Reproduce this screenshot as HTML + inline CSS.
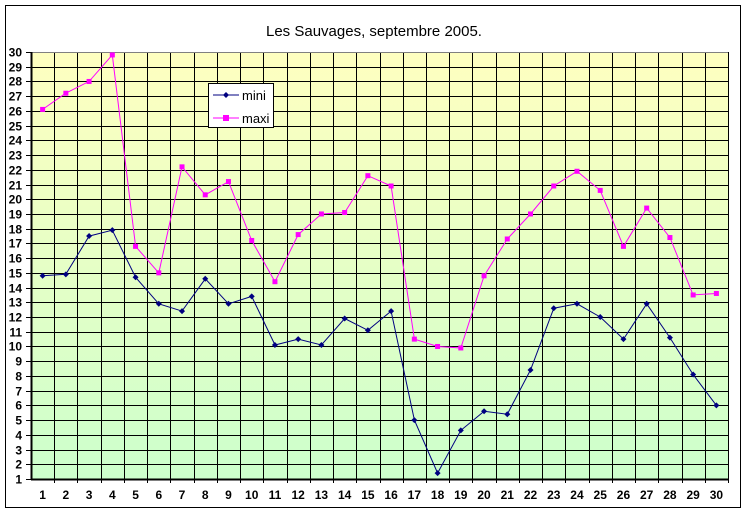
<!DOCTYPE html>
<html><head><meta charset="utf-8"><style>
html,body{margin:0;padding:0;background:#fff;width:749px;height:515px;overflow:hidden}
svg{display:block;font-family:"Liberation Sans",Arial,sans-serif}
</style></head><body>
<svg id="s" width="749" height="515" xmlns="http://www.w3.org/2000/svg">
<defs><linearGradient id="g" x1="0" y1="0" x2="0" y2="1">
<stop offset="0" stop-color="#ffffc0"/><stop offset="1" stop-color="#ccffcc"/></linearGradient></defs>
<rect x="5.5" y="5.5" width="735" height="502" fill="#fff" stroke="#000" stroke-width="1"/>
<text x="374" y="36" font-size="15" text-anchor="middle">Les Sauvages, septembre 2005.</text>
<rect x="31" y="52" width="697" height="427" fill="url(#g)"/>
<g id="grid"></g>
<g id="lab" font-size="12" font-weight="bold"></g>
<g id="ser"></g>
<rect x="208.5" y="83.5" width="65" height="44" fill="#fff" stroke="#000"/>
<line x1="213" y1="95" x2="239" y2="95" stroke="#000080" stroke-width="1"/>
<path d="M226 92 L229 95 L226 98 L223 95Z" fill="#000080"/>
<text x="242" y="100" font-size="13">mini</text>
<line x1="213" y1="118" x2="239" y2="118" stroke="#ff00ff" stroke-width="1"/>
<rect x="223" y="115" width="6" height="6" fill="#ff00ff"/>
<text x="242" y="123" font-size="13">maxi</text>
</svg>
<script>
var L=31,R=728,T=52,B=479,dx=(R-L)/30,dy=(B-T)/29,ns="http://www.w3.org/2000/svg";
function el(p,t,a,txt){var e=document.createElementNS(ns,t);for(var k in a)e.setAttribute(k,a[k]);if(txt!=null)e.textContent=txt;document.getElementById(p).appendChild(e);return e;}
for(var i=1;i<30;i++){var x=Math.round(L+i*dx)+.5;el('grid','line',{x1:x,y1:T,x2:x,y2:B+4,stroke:'#000'});}
for(var v=1;v<=30;v++){var y=Math.round(B-(v-1)*dy)+.5;el('grid','line',{x1:L-5,y1:y,x2:R,y2:y,stroke:v==30?'#808080':'#000'});
el('lab','text',{x:L-9,y:y+4,'text-anchor':'end'},v);}
el('grid','line',{x1:L-5,y1:T+.5,x2:L,y2:T+.5,stroke:'#000'});
el('grid','line',{x1:L+.5,y1:T,x2:L+.5,y2:B,stroke:'#000','stroke-width':2});
el('grid','line',{x1:R+.5,y1:T,x2:R+.5,y2:B+4,stroke:'#000'});
el('grid','line',{x1:L,y1:B+.5,x2:R,y2:B+.5,stroke:'#000','stroke-width':2});
for(var d=1;d<=30;d++)el('lab','text',{x:L+(d-.5)*dx,y:B+20,'text-anchor':'middle'},d);
var mini=[14.8,14.9,17.5,17.9,14.7,12.9,12.4,14.6,12.9,13.4,10.1,10.5,10.1,11.9,11.1,12.4,5,1.4,4.3,5.6,5.4,8.4,12.6,12.9,12,10.5,12.9,10.6,8.1,6];
var maxi=[26.1,27.2,28,29.8,16.8,15,22.2,20.3,21.2,17.2,14.4,17.6,19,19.1,21.6,20.9,10.5,10,9.9,14.8,17.3,19,20.9,21.9,20.6,16.8,19.4,17.4,13.5,13.6];
function px(i){return L+(i+.5)*dx}function py(v){return B-(v-1)*dy}
function draw(a,c,sq){var p=a.map(function(v,i){return px(i).toFixed(1)+','+py(v).toFixed(1)}).join(' ');
el('ser','polyline',{points:p,fill:'none',stroke:c,'stroke-width':1});
a.forEach(function(v,i){var x=px(i),y=py(v);if(sq)el('ser','rect',{x:x-2.5,y:y-2.5,width:5,height:5,fill:c});
else el('ser','path',{d:'M'+x+' '+(y-3)+'L'+(x+3)+' '+y+'L'+x+' '+(y+3)+'L'+(x-3)+' '+y+'Z',fill:c});});}
draw(maxi,'#ff00ff',true);draw(mini,'#000080',false);
</script>
</body></html>
